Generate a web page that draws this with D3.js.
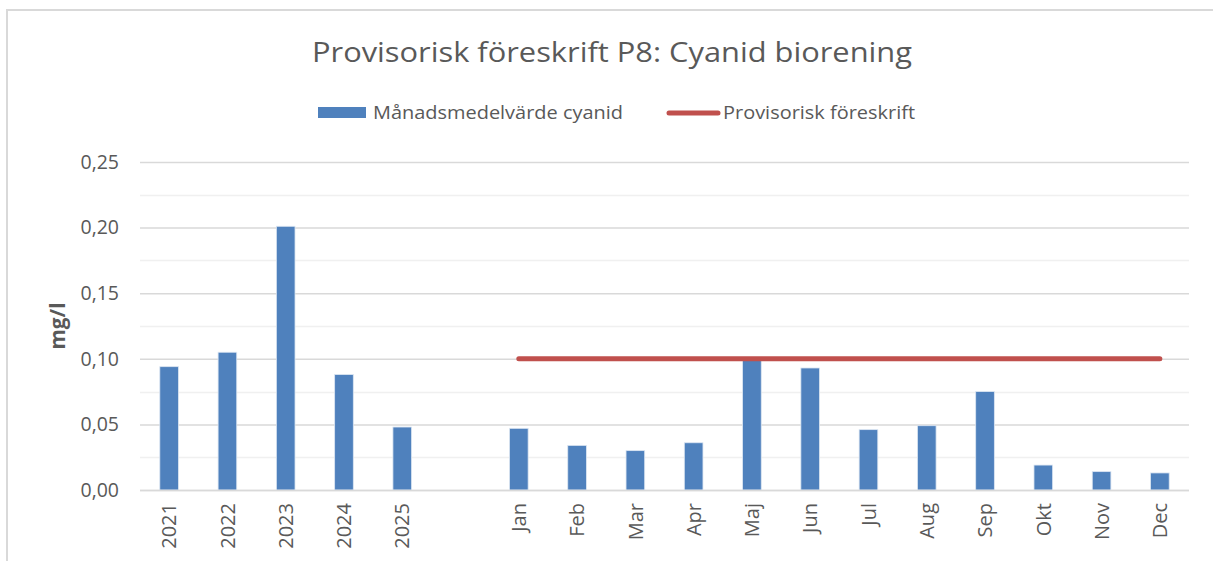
<!DOCTYPE html>
<html>
<head>
<meta charset="utf-8">
<script src="https://cdn.jsdelivr.net/npm/d3@7"></script>
<style>
  html, body { margin: 0; padding: 0; background: #fff; }
  svg { display: block; font-family: "Open Sans", "Noto Sans", sans-serif; }
</style>
</head>
<body>
<svg id="chart" width="1213" height="561"></svg>
<script>
// ---- data ----
const categories = ["2021", "2022", "2023", "2024", "2025", " ", "Jan", "Feb", "Mar", "Apr", "Maj", "Jun", "Jul", "Aug", "Sep", "Okt", "Nov", "Dec"];
const monthlyMean = [0.094, 0.105, 0.201, 0.088, 0.048, null, 0.047, 0.034, 0.030, 0.036, 0.099, 0.093, 0.046, 0.049, 0.075, 0.019, 0.014, 0.013];
const limitValues = [null, null, null, null, null, null, 0.10, 0.10, 0.10, 0.10, 0.10, 0.10, 0.10, 0.10, 0.10, 0.10, 0.10, 0.10];
const yTicks = [0, 0.05, 0.10, 0.15, 0.20, 0.25];
const yMinorTicks = [0.025, 0.075, 0.125, 0.175, 0.225];
const titleText = "Provisorisk föreskrift P8: Cyanid biorening";
const seriesNames = ["Månadsmedelvärde cyanid", "Provisorisk föreskrift"];
const yAxisTitle = "mg/l";

// ---- layout ----
const svg = d3.select("#chart");
const plot = { left: 140, right: 1189, top: 162, bottom: 490 };
const textColor = "#595959";
const barColor = "#4F81BD";
const lineColor = "#C0504D";

const x = d3.scaleBand().domain(categories).range([plot.left, plot.right])
  .paddingInner(0.68).paddingOuter(0.34);
const y = d3.scaleLinear().domain([0, 0.25]).range([plot.bottom, plot.top]);

const locale = d3.formatLocale({ decimal: ",", thousands: " ", grouping: [3], currency: ["", " kr"] });
const fmt = locale.format(".2f");

// chart border (top + left)
svg.append("line").attr("x1", 6).attr("x2", 1213).attr("y1", 10).attr("y2", 10)
  .attr("stroke", "#D9D9D9").attr("stroke-width", 2);
svg.append("line").attr("x1", 7).attr("x2", 7).attr("y1", 9).attr("y2", 561)
  .attr("stroke", "#D9D9D9").attr("stroke-width", 2);

// minor gridlines
svg.append("g").selectAll("line").data(yMinorTicks).join("line")
  .attr("x1", plot.left).attr("x2", plot.right)
  .attr("y1", d => Math.round(y(d)) + 0.5).attr("y2", d => Math.round(y(d)) + 0.5)
  .attr("stroke", "#F0F0F0").attr("stroke-width", 1.5);

// major gridlines via axis
const yAxis = d3.axisLeft(y).tickValues(yTicks).tickFormat(fmt)
  .tickSize(-(plot.right - plot.left)).tickPadding(21);
const gy = svg.append("g").attr("transform", `translate(${plot.left},0)`).call(yAxis);
gy.select(".domain").remove();
gy.selectAll(".tick line").attr("stroke", "#D9D9D9").attr("stroke-width", 1.5);
gy.selectAll(".tick text").attr("fill", textColor).style("font-size", "19.5px")
  .style("font-family", "'Open Sans', sans-serif");

// bars
svg.append("g").selectAll("rect").data(categories.map((c, i) => ({ c, v: monthlyMean[i] })).filter(d => d.v != null))
  .join("rect")
  .attr("x", d => x(d.c)).attr("width", x.bandwidth())
  .attr("y", d => y(d.v)).attr("height", d => y(0) - y(d.v))
  .attr("fill", barColor).attr("stroke", "#DCE6F2").attr("stroke-width", 0.8);

// x axis baseline
svg.append("line").attr("x1", plot.left).attr("x2", plot.right)
  .attr("y1", y(0) + 0.5).attr("y2", y(0) + 0.5).attr("stroke", "#D9D9D9").attr("stroke-width", 1.5);

// x axis labels
const xAxis = d3.axisBottom(x).tickSize(0).tickPadding(0);
const gx = svg.append("g").attr("transform", `translate(0,${plot.bottom})`).call(xAxis);
gx.select(".domain").remove();
gx.selectAll(".tick text")
  .attr("transform", "rotate(-90)")
  .attr("x", -13).attr("y", 0).attr("dy", "0.36em")
  .attr("text-anchor", "end")
  .attr("fill", textColor).style("font-size", "20px")
  .style("font-family", "'Open Sans', sans-serif");

// limit line
const lineData = categories.map((c, i) => ({ c, v: limitValues[i] })).filter(d => d.v != null);
svg.append("path").datum(lineData)
  .attr("d", d3.line().x(d => x(d.c) + x.bandwidth() / 2).y(d => y(d.v)))
  .attr("fill", "none").attr("stroke", lineColor).attr("stroke-width", 5)
  .attr("stroke-linecap", "round");

// title
svg.append("text").attr("x", 612).attr("y", 62).attr("text-anchor", "middle")
  .attr("fill", textColor).style("font-size", "28px")
  .attr("textLength", 600).attr("lengthAdjust", "spacingAndGlyphs")
  .text(titleText);

// y axis title
svg.append("text").attr("transform", "translate(65,326) rotate(-90)")
  .attr("text-anchor", "middle").attr("fill", textColor)
  .style("font-size", "21px").style("font-weight", "bold")
  .attr("textLength", 47).attr("lengthAdjust", "spacingAndGlyphs")
  .text(yAxisTitle);

// legend
const lg = svg.append("g");
lg.append("rect").attr("x", 318).attr("y", 107).attr("width", 48).attr("height", 11).attr("fill", barColor);
lg.append("text").attr("x", 373).attr("y", 119).attr("fill", textColor).style("font-size", "18px")
  .attr("textLength", 250).attr("lengthAdjust", "spacingAndGlyphs").text(seriesNames[0]);
lg.append("line").attr("x1", 669).attr("x2", 718).attr("y1", 113).attr("y2", 113)
  .attr("stroke", lineColor).attr("stroke-width", 5).attr("stroke-linecap", "round");
lg.append("text").attr("x", 723).attr("y", 119).attr("fill", textColor).style("font-size", "18px")
  .attr("textLength", 192).attr("lengthAdjust", "spacingAndGlyphs").text(seriesNames[1]);
</script>
</body>
</html>
